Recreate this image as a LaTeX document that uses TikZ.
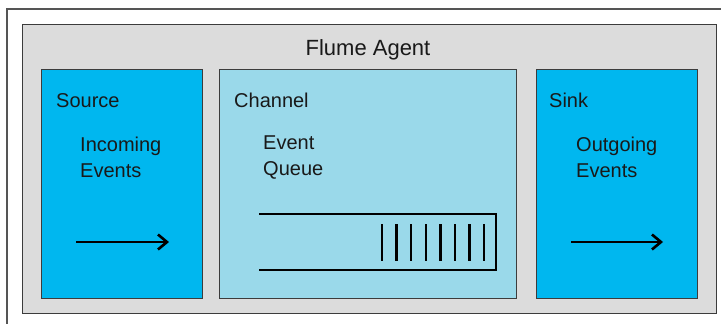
\documentclass[tikz,border=0pt]{standalone}
\usepackage{fontspec}
\setmainfont{Liberation Sans}
\usetikzlibrary{arrows.meta}
\definecolor{agentgray}{HTML}{DCDCDC}
\definecolor{edgegray}{HTML}{3C3C3C}
\definecolor{framegray}{HTML}{555555}
\definecolor{srcblue}{HTML}{00B7EF}
\definecolor{chanblue}{HTML}{9AD9EA}
\tikzset{
  boxnode/.style={draw=edgegray, line width=1.4pt, inner sep=0pt, anchor=north west},
  lbl/.style={anchor=base west, inner sep=0pt, font=\fontsize{20}{26}\selectfont, text=black!90},
  queueline/.style={line width=2.8pt, black},
  qbar/.style={line width=2.4pt, black},
  flow/.style={line width=2.6pt, black, -{Straight Barb[length=9pt,width=15pt,line width=2.6pt]}}
}
\begin{document}
\begin{tikzpicture}[x=1pt,y=-1pt]
\useasboundingbox (0,0) rectangle (721,324);
\fill[white] (0,0) rectangle (721,324);
\coordinate (fa) at (7,324);
\coordinate (fb) at (7,9);
\coordinate (fc) at (721,9);
\draw[framegray, line width=1.4pt] (fa) -- (fb) -- (fc);
\node[boxnode, fill=agentgray, minimum width=694pt, minimum height=289pt] (agent) at (22,24) {};
\node[boxnode, fill=srcblue, minimum width=161pt, minimum height=229pt] (source) at (41,69) {};
\node[boxnode, fill=chanblue, minimum width=297pt, minimum height=229pt] (channel) at (219,69) {};
\node[boxnode, fill=srcblue, minimum width=161pt, minimum height=229pt] (sink) at (536,69) {};
\node[lbl, anchor=base, font=\fontsize{22}{26}\selectfont] (agentlbl) at (368,55) {Flume Agent};
\node[lbl] (srclbl) at (56,107) {Source};
\node[lbl] (srcin1) at (80,151) {Incoming};
\node[lbl] (srcin2) at (80,177) {Events};
\node[lbl] (chanlbl) at (234,107) {Channel};
\node[lbl] (chq1) at (263,149) {Event};
\node[lbl] (chq2) at (263,175) {Queue};
\node[lbl] (sinklbl) at (549,107) {Sink};
\node[lbl] (sk1) at (576,151) {Outgoing};
\node[lbl] (sk2) at (576,177) {Events};
\coordinate (q1) at (259,214);
\coordinate (q2) at (496,214);
\coordinate (q3) at (496,270);
\coordinate (q4) at (259,270);
\draw[queueline] (q1) -- (q2) -- (q3) -- (q4);
\foreach \i in {0,...,7} {
  \draw[qbar] (382+\i*14.6,224) -- (382+\i*14.6,261);
}
\coordinate (sa) at (76,242);
\coordinate (sb) at (169,242);
\draw[flow] (sa) -- (sb);
\coordinate (ka) at (571,242);
\coordinate (kb) at (663,242);
\draw[flow] (ka) -- (kb);
\end{tikzpicture}
\end{document}
